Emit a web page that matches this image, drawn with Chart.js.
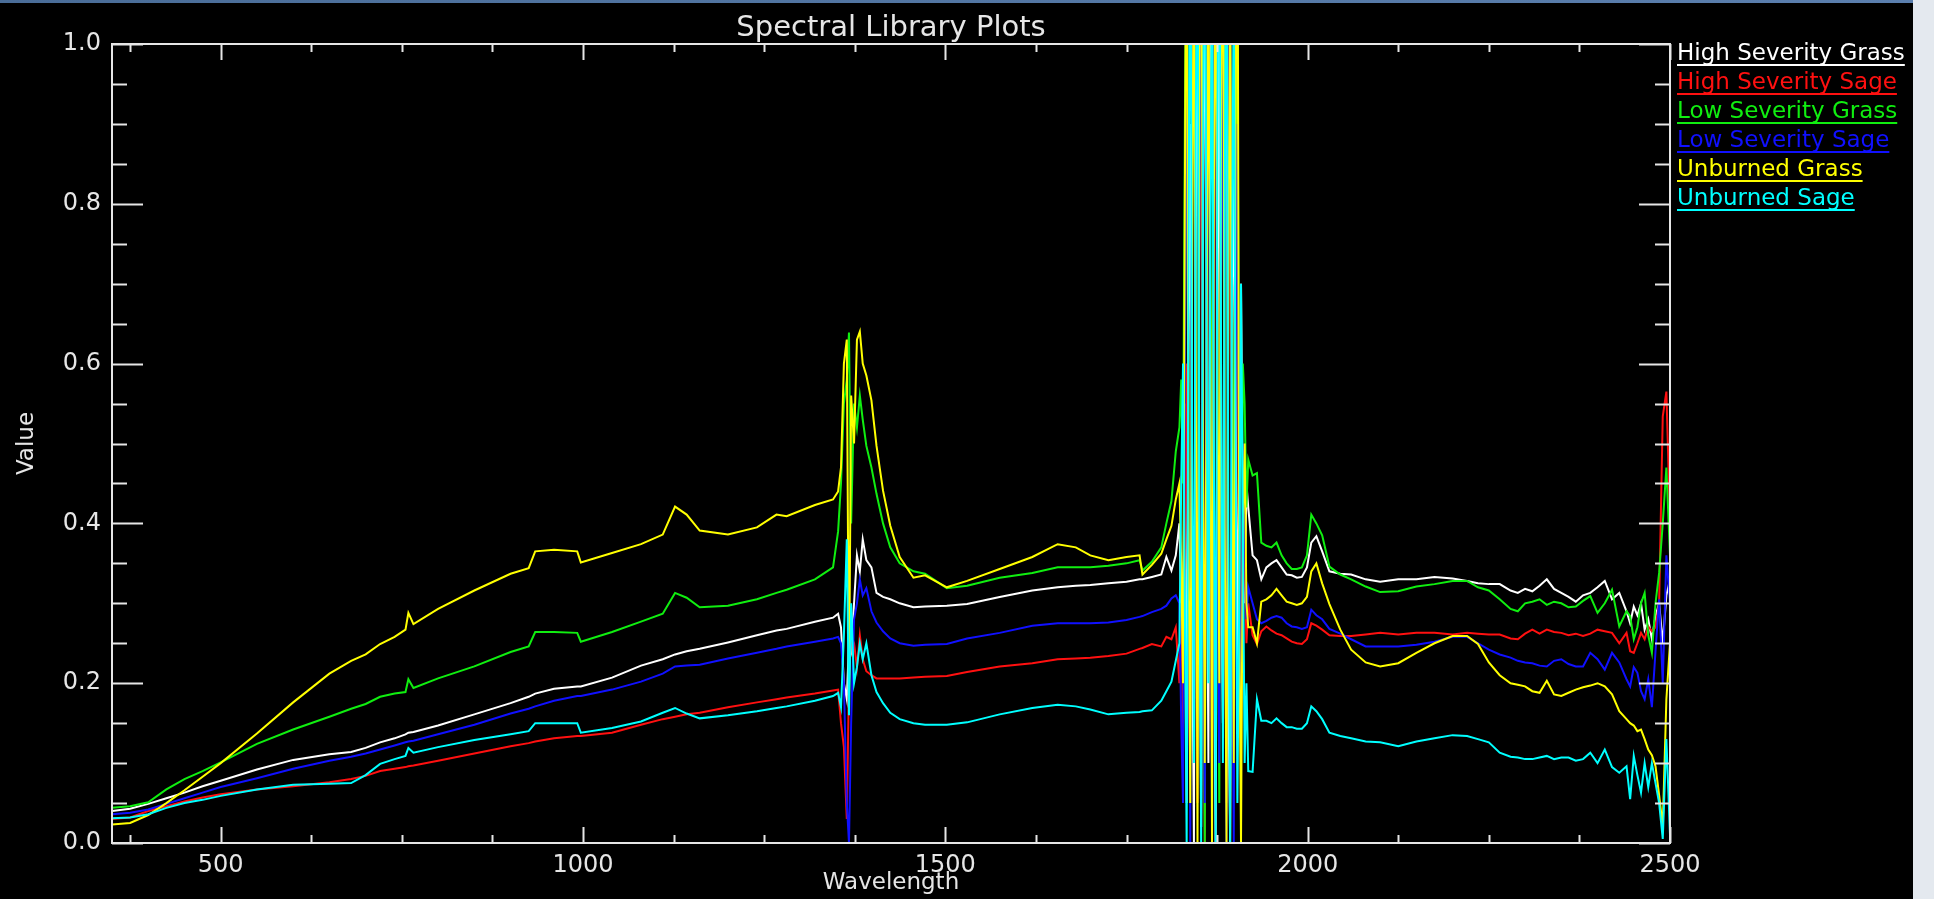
<!DOCTYPE html>
<html>
<head>
<meta charset="utf-8">
<script src="https://cdn.jsdelivr.net/npm/chart.js@4.4.1/dist/chart.umd.min.js"></script>
<style>
html,body{margin:0;padding:0;background:#e4e9ef;overflow:hidden;}
#wrap{position:absolute;left:0;top:0;width:1934px;height:899px;}
canvas{display:block;}
</style>
</head>
<body>
<div id="wrap"><canvas id="c" width="1934" height="899"></canvas></div>
<script>
// ---------------- DATA ----------------
const chartTitle = 'Spectral Library Plots';
const xAxisTitle = 'Wavelength';
const yAxisTitle = 'Value';

const wavelengths = [
350,375,400,425,450,475,500,550,600,650,680,700,720,740,755,759,766,800,850,900,925,934,960,992,997,1040,
1080,1110,1127,1143,1161,1200,1240,1267,1281,1320,1345,1352,1356,1360,1364,1367,1370,1374,1378,1382,1386,1391,1398,1405,1414,1424,1437,1456,1472,1502,1530,1575,
1620,1655,1680,1700,1725,1750,1768,1772,1785,1798,1805,1812,1818,
1823,1825.5,1828,1830.5,1833,1835.5,1838,1840.5,1843,1845.5,1848,1850.5,1853,1855.5,1858,1860.5,1863,1865.5,1868,1870.5,
1873,1875.5,1878,1880.5,1883,1885.5,1888,1890.5,1893,1895.5,1898,1900.5,1903,1905.5,1908,1910.5,1913,1915.5,1918,
1924,1930,1936,1943,1950,1957,1964,1971,1978,1985,1992,1999,2005,2012,2020,2030,2045,2060,2080,2100,
2125,2150,2175,2200,2220,2235,2250,2265,2280,2290,2300,2310,2320,2330,2340,2350,2360,2370,2380,2390,
2400,2410,2420,2430,2440,2445,2450,2455,2460,2465,2470,2475,2480,2485,2490,2495,2500
];

const highSeverityGrass = [
0.040,0.043,0.049,0.056,0.063,0.071,0.078,0.092,0.104,0.111,0.114,0.119,0.126,0.131,0.136,0.138,0.139,0.147,0.161,0.175,0.183,0.187,0.193,0.196,0.196,0.207,
0.222,0.230,0.236,0.240,0.243,0.251,0.260,0.266,0.268,0.277,0.282,0.287,0.270,0.20,0.18,0.25,0.24,0.30,0.36,0.34,0.380,0.354,0.345,0.313,0.308,0.305,0.300,0.295,0.296,0.297,0.299,0.308,
0.316,0.320,0.322,0.323,0.325,0.327,0.330,0.330,0.333,0.336,0.358,0.341,0.36,
0.40,0.30,0.25,0.55,0.05,0.6,0.9,0.3,0.0,0.7,1.3,0.4,0.02,0.8,1.2,0.5,0.1,0.9,1.4,0.3,
0.0,0.6,1.1,0.4,0.15,0.9,1.3,0.2,0.0,0.5,0.9,0.6,0.2,0.5,0.7,0.4,0.3,0.45,0.42,
0.36,0.354,0.33,0.345,0.35,0.354,0.345,0.336,0.335,0.332,0.333,0.345,0.376,0.384,0.365,0.340,0.337,0.336,0.330,0.327,
0.330,0.330,0.333,0.331,0.328,0.325,0.324,0.324,0.316,0.313,0.318,0.315,0.322,0.33,0.318,0.313,0.308,0.302,0.310,0.313,
0.320,0.328,0.305,0.313,0.29,0.275,0.296,0.285,0.30,0.267,0.28,0.255,0.284,0.30,0.25,0.31,0.33
];

const highSeveritySage = [
0.030,0.032,0.040,0.046,0.052,0.057,0.061,0.067,0.071,0.076,0.080,0.084,0.090,0.093,0.095,0.096,0.097,0.103,0.112,0.121,0.125,0.127,0.131,0.134,0.134,0.138,
0.148,0.155,0.158,0.161,0.163,0.170,0.176,0.180,0.182,0.187,0.191,0.192,0.15,0.12,0.03,0.20,0.26,0.25,0.22,0.26,0.23,0.215,0.21,0.206,0.206,0.206,0.206,0.207,0.208,0.209,0.214,0.221,
0.225,0.230,0.231,0.232,0.234,0.237,0.243,0.244,0.249,0.246,0.258,0.255,0.27,
0.20,0.30,0.14,0.35,0.6,0.2,0.1,0.8,1.2,0.4,0.05,0.7,1.1,0.3,0.0,0.9,1.3,0.5,0.1,0.8,
1.2,0.3,0.2,0.9,1.1,0.4,0.05,0.6,1.0,0.5,0.15,0.6,0.8,0.3,0.25,0.4,0.35,0.25,0.30,
0.26,0.249,0.265,0.271,0.266,0.262,0.26,0.256,0.252,0.25,0.249,0.255,0.275,0.272,0.267,0.26,0.259,0.259,0.261,0.263,
0.261,0.263,0.263,0.261,0.263,0.262,0.261,0.261,0.256,0.255,0.262,0.267,0.262,0.267,0.264,0.263,0.26,0.262,0.259,0.262,
0.267,0.265,0.263,0.25,0.263,0.24,0.238,0.25,0.263,0.255,0.271,0.265,0.27,0.30,0.534,0.565,0.40
];

const lowSeverityGrass = [
0.044,0.046,0.051,0.067,0.080,0.090,0.101,0.124,0.142,0.158,0.168,0.174,0.183,0.187,0.189,0.205,0.194,0.206,0.221,0.239,0.246,0.264,0.264,0.263,0.252,0.264,
0.277,0.287,0.313,0.307,0.295,0.297,0.305,0.313,0.317,0.330,0.345,0.390,0.450,0.55,0.58,0.639,0.40,0.55,0.52,0.56,0.53,0.497,0.47,0.437,0.40,0.37,0.350,0.340,0.337,0.319,0.322,0.332,
0.338,0.345,0.345,0.345,0.347,0.350,0.354,0.341,0.352,0.37,0.40,0.428,0.49,
0.52,0.58,0.45,0.9,1.2,0.5,0.1,0.8,1.4,0.6,0.2,1.0,1.3,0.4,0.0,0.7,1.2,0.8,0.3,1.1,
1.5,0.5,0.05,0.9,1.2,0.6,0.2,0.8,1.1,0.7,0.3,0.9,1.0,0.5,0.2,0.6,0.55,0.42,0.48,
0.46,0.463,0.376,0.372,0.37,0.376,0.36,0.350,0.343,0.343,0.345,0.36,0.411,0.400,0.385,0.346,0.336,0.33,0.321,0.314,
0.315,0.321,0.324,0.328,0.328,0.32,0.316,0.305,0.293,0.290,0.300,0.302,0.305,0.298,0.302,0.300,0.295,0.296,0.303,0.309,
0.288,0.300,0.317,0.271,0.290,0.284,0.255,0.27,0.30,0.313,0.26,0.238,0.30,0.338,0.40,0.47,0.36
];

const lowSeveritySage = [
0.036,0.038,0.042,0.049,0.056,0.063,0.070,0.081,0.093,0.103,0.108,0.112,0.117,0.122,0.126,0.127,0.128,0.136,0.148,0.162,0.168,0.171,0.178,0.184,0.184,0.192,
0.202,0.212,0.221,0.222,0.223,0.231,0.238,0.243,0.246,0.252,0.256,0.258,0.250,0.20,0.05,0.0,0.15,0.28,0.30,0.33,0.31,0.319,0.29,0.276,0.265,0.256,0.250,0.247,0.248,0.249,0.256,0.263,
0.272,0.275,0.275,0.275,0.276,0.279,0.283,0.284,0.289,0.293,0.297,0.306,0.31,
0.30,0.15,0.05,0.6,1.1,0.4,0.0,0.9,1.3,0.5,0.15,0.8,1.2,0.3,0.05,0.7,1.1,0.6,0.0,0.9,
1.3,0.4,0.1,0.7,1.0,0.5,0.0,0.8,1.2,0.3,0.0,0.6,0.9,0.4,0.15,0.5,0.40,0.28,0.32,
0.30,0.28,0.275,0.278,0.282,0.284,0.282,0.275,0.271,0.270,0.268,0.27,0.292,0.285,0.28,0.268,0.262,0.255,0.246,0.246,
0.246,0.248,0.252,0.258,0.258,0.25,0.242,0.236,0.232,0.228,0.226,0.225,0.222,0.221,0.228,0.23,0.224,0.221,0.221,0.238,
0.23,0.217,0.238,0.226,0.205,0.196,0.22,0.213,0.19,0.18,0.205,0.17,0.24,0.305,0.20,0.36,0.30
];

const unburnedGrass = [
0.023,0.025,0.035,0.050,0.066,0.083,0.100,0.137,0.176,0.212,0.228,0.236,0.249,0.258,0.267,0.288,0.274,0.293,0.316,0.337,0.344,0.365,0.367,0.365,0.351,0.363,
0.374,0.386,0.421,0.411,0.391,0.386,0.395,0.411,0.409,0.423,0.430,0.440,0.47,0.60,0.63,0.18,0.56,0.50,0.63,0.64,0.60,0.585,0.554,0.497,0.441,0.397,0.358,0.332,0.335,0.320,0.328,0.343,
0.358,0.374,0.370,0.360,0.354,0.358,0.360,0.336,0.348,0.362,0.380,0.397,0.43,
0.45,0.35,0.2,0.8,1.3,0.4,0.05,0.7,1.2,0.6,0.0,0.9,1.4,0.5,0.1,0.6,1.1,0.7,0.0,0.8,
1.2,0.6,0.2,0.9,1.3,0.4,0.0,0.7,1.1,0.5,0.1,0.9,1.3,0.3,0.0,0.4,0.50,0.3,0.27,
0.27,0.25,0.302,0.305,0.31,0.318,0.31,0.302,0.300,0.298,0.300,0.308,0.34,0.350,0.325,0.299,0.267,0.242,0.226,0.221,
0.225,0.238,0.250,0.259,0.259,0.249,0.226,0.21,0.200,0.198,0.196,0.190,0.188,0.203,0.186,0.184,0.188,0.192,0.195,0.197,
0.200,0.196,0.186,0.165,0.155,0.150,0.147,0.14,0.142,0.13,0.117,0.11,0.096,0.06,0.021,0.18,0.25
];

const unburnedSage = [
0.031,0.032,0.036,0.044,0.050,0.054,0.059,0.067,0.073,0.074,0.075,0.085,0.099,0.105,0.109,0.119,0.113,0.120,0.129,0.136,0.140,0.150,0.150,0.150,0.138,0.144,
0.152,0.163,0.169,0.162,0.156,0.160,0.165,0.169,0.171,0.178,0.184,0.188,0.17,0.26,0.38,0.16,0.30,0.20,0.22,0.25,0.23,0.25,0.21,0.189,0.175,0.163,0.155,0.150,0.148,0.148,0.151,0.161,
0.169,0.173,0.171,0.167,0.161,0.163,0.164,0.165,0.166,0.178,0.190,0.202,0.228,
0.25,0.45,0.6,0.3,0.0,0.7,1.3,0.5,0.1,0.9,1.2,0.4,0.0,0.8,1.4,0.6,0.2,0.7,1.1,0.5,
0.0,0.9,1.3,0.6,0.1,0.8,1.2,0.4,0.0,0.7,1.1,0.5,0.05,0.3,0.7,0.4,0.1,0.2,0.09,
0.089,0.18,0.153,0.153,0.15,0.156,0.15,0.145,0.145,0.143,0.143,0.15,0.171,0.165,0.155,0.138,0.134,0.131,0.127,0.126,
0.121,0.127,0.131,0.135,0.134,0.13,0.126,0.113,0.108,0.107,0.105,0.105,0.107,0.109,0.105,0.107,0.107,0.103,0.105,0.113,
0.100,0.117,0.095,0.088,0.096,0.055,0.109,0.085,0.063,0.10,0.07,0.10,0.075,0.05,0.005,0.13,0.01
];

const seriesNames  = ['High Severity Grass','High Severity Sage','Low Severity Grass','Low Severity Sage','Unburned Grass','Unburned Sage'];
const seriesValues = [highSeverityGrass, highSeveritySage, lowSeverityGrass, lowSeveritySage, unburnedGrass, unburnedSage];
const seriesColors = ['#ffffff','#ff1010','#10ee10','#1010ff','#ffff00','#00ffff'];

const xTickValues = [500,1000,1500,2000,2500];
const xTickLabels = ['500','1000','1500','2000','2500'];
const yTickValues = [0,0.2,0.4,0.6,0.8,1.0];
const yTickLabels = ['0.0','0.2','0.4','0.6','0.8','1.0'];

// ---------------- STYLE ----------------
const FONT = "'DejaVu Sans', sans-serif";
const TEXT = '#e6e6e6';
const X_MIN = 350, X_MAX = 2500, Y_MIN = 0, Y_MAX = 1;
const X_MINOR = 125, Y_MINOR = 0.05;

const bgPlugin = {
  id: 'bg',
  beforeDraw(chart) {
    const ctx = chart.ctx;
    ctx.save();
    ctx.fillStyle = '#e4e9ef';
    ctx.fillRect(0, 0, chart.width, chart.height);
    ctx.fillStyle = '#000000';
    ctx.fillRect(0, 0, 1913, chart.height);
    const g = ctx.createLinearGradient(0, 0, 1913, 0);
    g.addColorStop(0, '#4a6d98');
    g.addColorStop(1, '#5b7fae');
    ctx.fillStyle = g;
    ctx.fillRect(0, 0, 1913, 3);
    ctx.restore();
  }
};

const framePlugin = {
  id: 'frame',
  afterDatasetsDraw(chart) {
    const ctx = chart.ctx;
    const {left, right, top, bottom} = chart.chartArea;
    const xs = chart.scales.x, ys = chart.scales.y;
    ctx.save();
    ctx.strokeStyle = TEXT;
    ctx.lineWidth = 2;
    ctx.strokeRect(left, top, right - left, bottom - top);
    ctx.beginPath();
    for (let w = X_MIN + 25; w <= X_MAX; w += X_MINOR) {
      const px = Math.round(xs.getPixelForValue(w)) + 0.5;
      const len = xTickValues.includes(w) ? 16 : 8;
      ctx.moveTo(px, bottom); ctx.lineTo(px, bottom - len);
      ctx.moveTo(px, top); ctx.lineTo(px, top + len);
    }
    for (let k = 0; k <= 20; k++) {
      const v = k * Y_MINOR;
      const py = Math.round(ys.getPixelForValue(v)) + 0.5;
      const len = (k % 4 === 0) ? 31 : 15;
      ctx.moveTo(left, py); ctx.lineTo(left + len, py);
      ctx.moveTo(right, py); ctx.lineTo(right - len, py);
    }
    ctx.lineWidth = 2;
    ctx.stroke();
    ctx.restore();
  }
};

const textPlugin = {
  id: 'texts',
  afterDraw(chart) {
    const ctx = chart.ctx;
    const {left, right, top} = chart.chartArea;
    ctx.save();
    ctx.fillStyle = TEXT;
    ctx.font = "29px " + FONT;
    ctx.textAlign = 'center';
    ctx.textBaseline = 'alphabetic';
    ctx.fillText(chartTitle, (left + right) / 2, top - 8);
    ctx.font = "23px " + FONT;
    ctx.textAlign = 'left';
    const lx = right + 7;
    seriesNames.forEach((name, i) => {
      const by = top + 16 + i * 29;
      ctx.fillStyle = seriesColors[i];
      ctx.fillText(name, lx, by);
      const w = ctx.measureText(name).width;
      ctx.fillRect(lx, by + 4, w, 2);
    });
    ctx.fillStyle = '#e4e9ef';
    ctx.fillRect(1913, 0, chart.width - 1913, chart.height);
    ctx.restore();
  }
};

const datasets = seriesValues.map((vals, i) => ({
  label: seriesNames[i],
  data: wavelengths.map((w, j) => ({x: w, y: vals[j]})),
  borderColor: seriesColors[i],
  backgroundColor: seriesColors[i],
  borderWidth: 2,
  pointRadius: 0,
  tension: 0,
  fill: false,
  order: seriesNames.length - i
}));

new Chart(document.getElementById('c'), {
  type: 'line',
  data: { datasets },
  options: {
    responsive: false,
    animation: false,
    devicePixelRatio: 1,
    layout: { padding: { left: 0, right: 264, top: 44, bottom: 0 } },
    plugins: { legend: { display: false }, title: { display: false }, tooltip: { enabled: false } },
    scales: {
      x: {
        type: 'linear', min: X_MIN, max: X_MAX,
        grid: { display: false, drawTicks: false },
        border: { display: false },
        afterBuildTicks: s => { s.ticks = xTickValues.map(v => ({value: v})); },
        afterFit: s => { s.height = 56; },
        ticks: {
          autoSkip: false, maxRotation: 0, padding: 8, color: TEXT,
          font: { family: FONT, size: 24 },
          callback: (v, i) => xTickLabels[i]
        },
        title: { display: true, text: xAxisTitle, color: TEXT, font: { family: FONT, size: 23 }, padding: { top: 0, bottom: 2 } }
      },
      y: {
        type: 'linear', min: Y_MIN, max: Y_MAX,
        grid: { display: false, drawTicks: false },
        border: { display: false },
        afterBuildTicks: s => { s.ticks = yTickValues.map(v => ({value: v})); },
        afterFit: s => { s.width = 112; },
        ticks: {
          autoSkip: false, padding: 11, color: TEXT,
          font: { family: FONT, size: 24 },
          callback: (v, i) => yTickLabels[i]
        },
        title: { display: true, text: yAxisTitle, color: TEXT, font: { family: FONT, size: 23 }, padding: { top: 13, bottom: 0 } }
      }
    }
  },
  plugins: [bgPlugin, framePlugin, textPlugin]
});
</script>
</body>
</html>
